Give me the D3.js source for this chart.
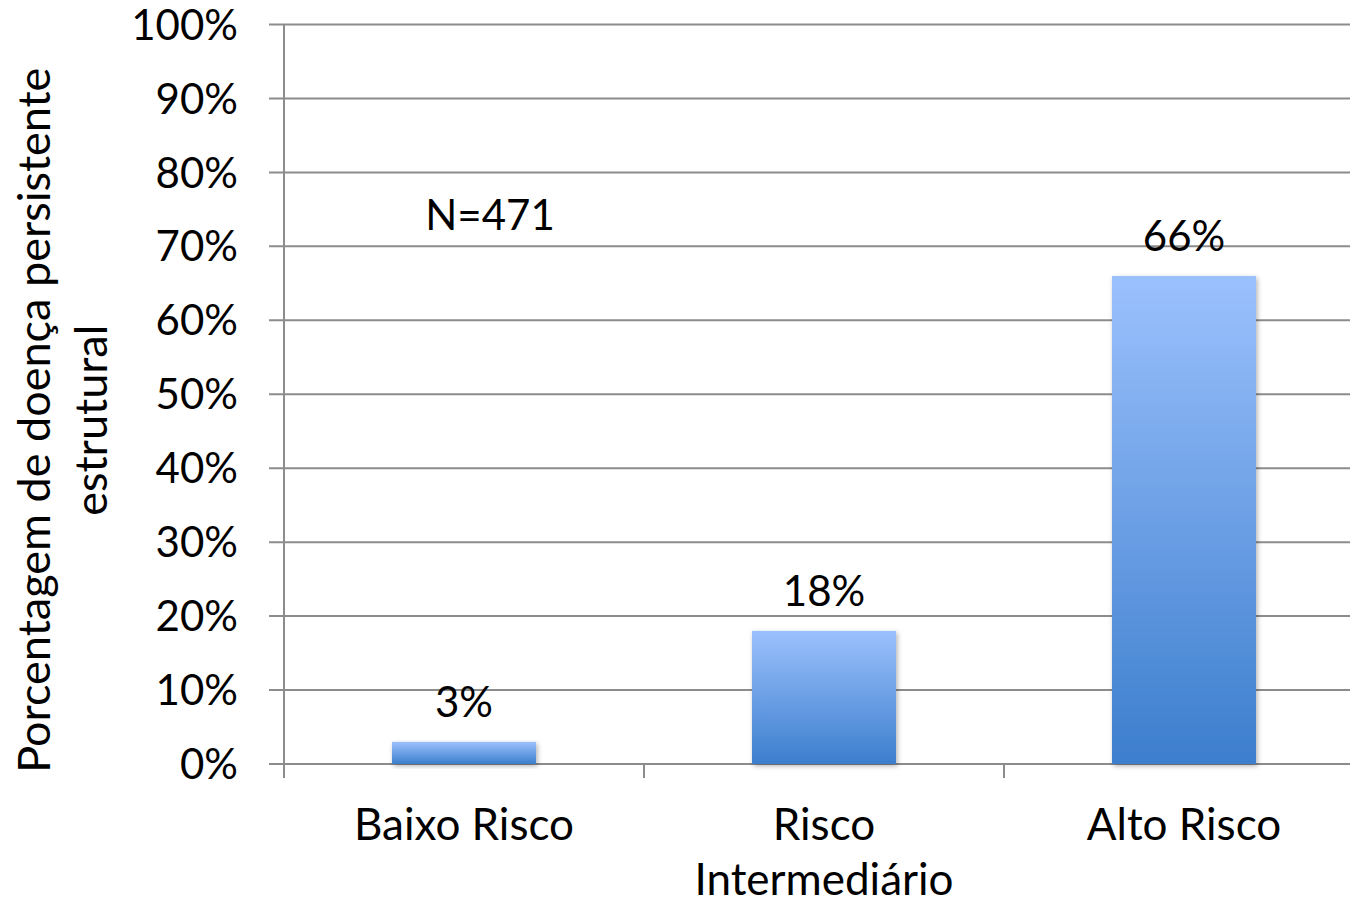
<!DOCTYPE html>
<html>
<head>
<meta charset="utf-8">
<script src="https://cdn.jsdelivr.net/npm/d3@7"></script>
<style>
  html, body { margin: 0; padding: 0; background: #fff; }
  svg { display: block; font-family: Lato, "Open Sans", sans-serif; }
</style>
</head>
<body>
<svg id="chart" width="1350" height="903"></svg>
<script>
// Chart data
const categories = ["Baixo Risco", "Risco Intermediário", "Alto Risco"];
const categoryLines = [["Baixo Risco"], ["Risco", "Intermediário"], ["Alto Risco"]];
const values = [3, 18, 66];
const yTicks = [0, 10, 20, 30, 40, 50, 60, 70, 80, 90, 100];
const yTitleLines = ["Porcentagem de doença persistente", "estrutural"];
const note = "N=471";

const svg = d3.select("#chart");
const plotLeft = 284, plotRight = 1364, plotTop = 24.5, plotBottom = 764;

const x = d3.scaleBand().domain(categories).range([plotLeft, plotRight]).paddingInner(0.6).paddingOuter(0.3);
const xOuter = d3.scaleBand().domain(categories).range([plotLeft, plotRight]);
const y = d3.scaleLinear().domain([0, 100]).range([plotBottom, plotTop]);

// Defs: bar gradient and soft shadow
const defs = svg.append("defs");
const grad = defs.append("linearGradient").attr("id", "barGrad")
  .attr("x1", 0).attr("y1", 0).attr("x2", 0).attr("y2", 1);
grad.append("stop").attr("offset", "0%").attr("stop-color", "#9bc1fd");
grad.append("stop").attr("offset", "100%").attr("stop-color", "#3c7ecd");
const shadow = defs.append("filter").attr("id", "shadow")
  .attr("x", "-10%").attr("y", "-10%").attr("width", "130%").attr("height", "130%");
shadow.append("feDropShadow").attr("dx", 1.5).attr("dy", 2).attr("stdDeviation", 2.5)
  .attr("flood-color", "#000").attr("flood-opacity", 0.3);

// Gridlines
svg.append("g").selectAll("line").data(yTicks).join("line")
  .attr("x1", plotLeft - 15).attr("x2", 1350)
  .attr("y1", d => y(d)).attr("y2", d => y(d))
  .attr("stroke", "#8c8c8c").attr("stroke-width", 2);

// Y axis line
svg.append("line").attr("x1", plotLeft).attr("x2", plotLeft).attr("y1", plotTop).attr("y2", plotBottom + 14)
  .attr("stroke", "#8c8c8c").attr("stroke-width", 2);

// Category boundary ticks
svg.append("g").selectAll("line").data(categories.slice(1)).join("line")
  .attr("x1", d => xOuter(d)).attr("x2", d => xOuter(d))
  .attr("y1", plotBottom).attr("y2", plotBottom + 14)
  .attr("stroke", "#8c8c8c").attr("stroke-width", 2);

// Y tick labels
svg.append("g").selectAll("text").data(yTicks).join("text")
  .attr("x", 238).attr("y", d => y(d)).attr("dy", "0.36em")
  .attr("text-anchor", "end").attr("font-size", 42).attr("fill", "#000")
  .text(d => d + "%");

// Bars
svg.append("g").selectAll("rect").data(values).join("rect")
  .attr("x", (d, i) => x(categories[i])).attr("width", x.bandwidth())
  .attr("y", d => y(d)).attr("height", d => y(0) - y(d))
  .attr("fill", "url(#barGrad)").attr("filter", "url(#shadow)");

// Value labels
svg.append("g").selectAll("text").data(values).join("text")
  .attr("x", (d, i) => x(categories[i]) + x.bandwidth() / 2)
  .attr("y", d => y(d) - 25)
  .attr("text-anchor", "middle").attr("font-size", 42).attr("fill", "#000")
  .text(d => d + "%");

// Category labels
const cat = svg.append("g").selectAll("text").data(categoryLines).join("text")
  .attr("x", (d, i) => x(categories[i]) + x.bandwidth() / 2)
  .attr("y", 840).attr("text-anchor", "middle").attr("font-size", 44).attr("fill", "#000");
cat.selectAll("tspan").data(d => d).join("tspan")
  .attr("x", function() { return d3.select(this.parentNode).attr("x"); })
  .attr("dy", (d, i) => i === 0 ? 0 : 55)
  .text(d => d);

// Note
svg.append("text").attr("x", 490).attr("y", 230).attr("text-anchor", "middle")
  .attr("font-size", 42).attr("fill", "#000").text(note);

// Y axis title
const yt = svg.append("text")
  .attr("transform", `translate(50, ${(plotTop + plotBottom) / 2 + 26}) rotate(-90)`)
  .attr("text-anchor", "middle").attr("font-size", 45).attr("fill", "#000");
yt.selectAll("tspan").data(yTitleLines).join("tspan")
  .attr("x", 0).attr("dy", (d, i) => i === 0 ? 0 : 57)
  .text(d => d);
</script>
</body>
</html>
